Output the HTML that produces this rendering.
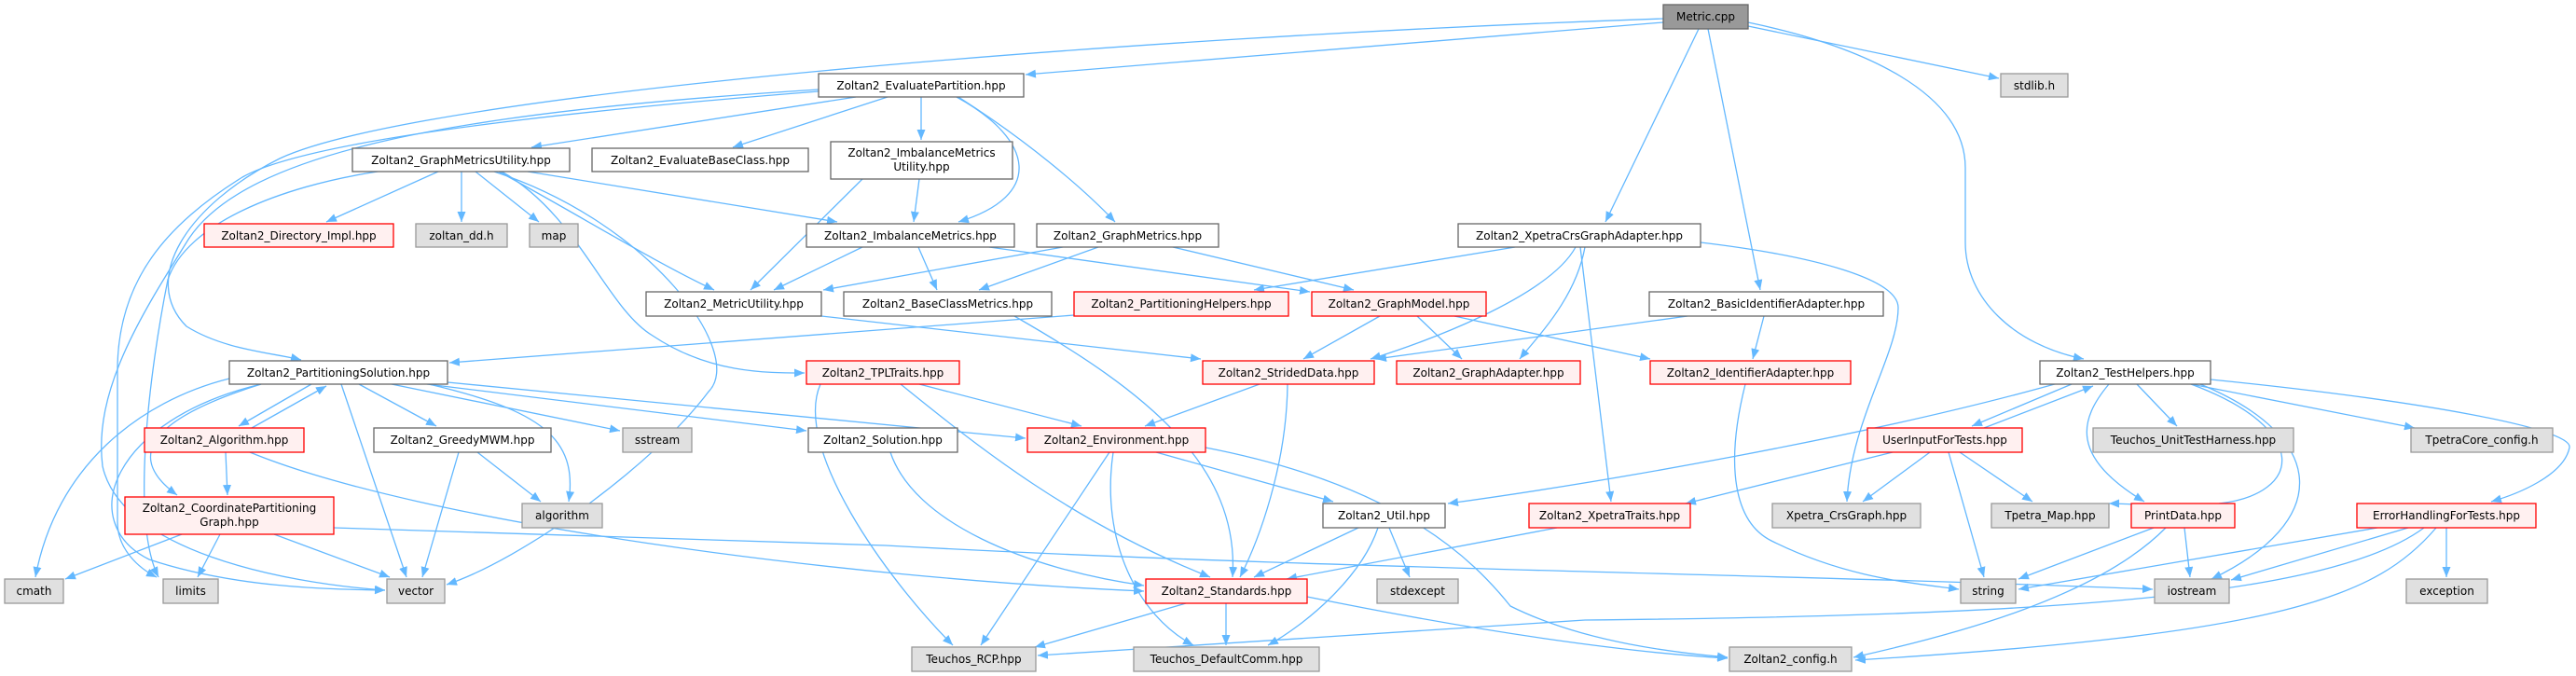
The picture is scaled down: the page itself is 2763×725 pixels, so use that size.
<!DOCTYPE html>
<html><head><meta charset="utf-8"><style>
html,body{margin:0;padding:0;background:#fff;}
svg{display:block;}
text{font-family:"DejaVu Sans","Liberation Sans",sans-serif;font-size:12px;fill:#000;}
.e{fill:none;stroke:#63b8ff;stroke-width:1.3;marker-end:url(#a);}
.w{fill:#fff;stroke:#666;stroke-width:1.3;}
.r{fill:#fff0f0;stroke:#f00;stroke-width:1.3;}
.g{fill:#e0e0e0;stroke:#999;stroke-width:1.3;}
.m{fill:#999;stroke:#666;stroke-width:1.3;}
</style></head><body>
<svg width="2763" height="725" viewBox="0 0 2763 725" xmlns="http://www.w3.org/2000/svg">
<defs><marker id="a" markerUnits="userSpaceOnUse" markerWidth="12" markerHeight="9" refX="11" refY="4.5" orient="auto"><path d="M0,0 L11,4.5 L0,9 z" fill="#63b8ff"/></marker></defs>
<g>
<path class="e" d="M1784,24 L1100,80"/>
<path class="e" d="M1784,20 C1200,40 450,100 300,170 C200,220 150,300 200,350 C240,375 290,378 323,386"/>
<path class="e" d="M1875,28 L2144,84"/>
<path class="e" d="M1822,31 L1722,238"/>
<path class="e" d="M1832,31 L1888,311"/>
<path class="e" d="M1875,24 C2000,50 2108,100 2108,180 L2108,260 C2108,320 2160,370 2235,385"/>
<path class="e" d="M918,104 L570,158"/>
<path class="e" d="M952,104 L786,158"/>
<path class="e" d="M988,104 L988,150"/>
<path class="e" d="M1026,104 C1110,150 1120,210 1028,238"/>
<path class="e" d="M1028,104 C1100,150 1160,200 1196,238"/>
<path class="e" d="M878,98 C600,120 330,150 260,190 C180,240 125,300 126,400 L126,560 C126,590 150,610 168,619"/>
<path class="e" d="M878,96 C500,120 260,160 200,260 C150,340 100,420 110,500 C130,590 300,625 413,633"/>
<path class="e" d="M470,184 L350,238"/>
<path class="e" d="M495,184 L495,238"/>
<path class="e" d="M510,184 L578,238"/>
<path class="e" d="M535,184 C620,230 700,280 766,311"/>
<path class="e" d="M566,184 L898,238"/>
<path class="e" d="M538,184 C620,230 650,330 700,360 C760,400 820,400 863,400"/>
<path class="e" d="M530,184 C700,240 800,380 760,420 C700,500 560,600 479,627"/>
<path class="e" d="M405,184 C300,200 200,240 180,300 C160,400 140,560 170,619"/>
<path class="e" d="M925,192 L805,311"/>
<path class="e" d="M986,192 L980,238"/>
<path class="e" d="M925,265 L830,311"/>
<path class="e" d="M985,265 L1005,311"/>
<path class="e" d="M1061,265 L1405,313"/>
<path class="e" d="M1140,265 L883,311"/>
<path class="e" d="M1178,265 L1050,311"/>
<path class="e" d="M1258,265 L1452,311"/>
<path class="e" d="M1625,265 L1345,311"/>
<path class="e" d="M1690,265 C1660,320 1520,370 1470,385"/>
<path class="e" d="M1700,265 C1690,320 1650,360 1630,385"/>
<path class="e" d="M1695,265 L1728,538"/>
<path class="e" d="M1824,260 C1950,275 2036,300 2036,330 C2036,380 1985,450 1981,538"/>
<path class="e" d="M1810,339 L1476,385"/>
<path class="e" d="M1892,339 L1880,385"/>
<path class="e" d="M1480,339 L1398,385"/>
<path class="e" d="M1520,339 L1568,385"/>
<path class="e" d="M1560,339 L1770,385"/>
<path class="e" d="M1152,338 L482,389"/>
<path class="e" d="M881,339 L1288,385"/>
<path class="e" d="M1088,339 C1230,420 1330,500 1322,619"/>
<path class="e" d="M334,412 L256,457"/>
<path class="e" d="M270,459 L350,414"/>
<path class="e" d="M385,412 L468,457"/>
<path class="e" d="M420,412 L665,462"/>
<path class="e" d="M460,412 C580,440 620,470 610,538"/>
<path class="e" d="M366,412 L436,619"/>
<path class="e" d="M246,406 C150,430 60,500 38,619"/>
<path class="e" d="M280,412 C190,440 120,480 190,531"/>
<path class="e" d="M458,412 L865,462"/>
<path class="e" d="M480,410 L1100,470"/>
<path class="e" d="M280,412 C120,450 80,560 160,600 C250,630 350,632 413,633"/>
<path class="e" d="M242,485 L244,531"/>
<path class="e" d="M268,485 C450,560 900,620 1227,634"/>
<path class="e" d="M195,573 L70,621"/>
<path class="e" d="M236,573 L212,619"/>
<path class="e" d="M294,573 L418,619"/>
<path class="e" d="M358,566 L950,585 C1400,610 1900,615 2309,632"/>
<path class="e" d="M512,485 L580,538"/>
<path class="e" d="M492,485 L453,619"/>
<path class="e" d="M986,412 L1160,457"/>
<path class="e" d="M966,412 C1050,480 1150,560 1298,619"/>
<path class="e" d="M880,412 C850,480 950,620 1022,692"/>
<path class="e" d="M955,485 C980,560 1100,610 1227,628"/>
<path class="e" d="M1351,412 L1228,457"/>
<path class="e" d="M1381,412 C1380,500 1350,580 1330,619"/>
<path class="e" d="M1240,485 L1430,538"/>
<path class="e" d="M1190,485 L1052,692"/>
<path class="e" d="M1194,485 C1180,580 1220,660 1280,692"/>
<path class="e" d="M1293,480 C1500,520 1580,600 1620,650 C1700,690 1800,700 1853,705"/>
<path class="e" d="M1457,566 L1345,619"/>
<path class="e" d="M1478,566 C1460,620 1400,670 1360,692"/>
<path class="e" d="M1490,566 L1512,619"/>
<path class="e" d="M1670,566 L1380,621"/>
<path class="e" d="M1272,647 L1110,694"/>
<path class="e" d="M1315,647 L1315,692"/>
<path class="e" d="M1402,640 C1600,680 1750,700 1853,706"/>
<path class="e" d="M1872,412 C1850,500 1860,560 1900,580 C1980,620 2050,625 2101,632"/>
<path class="e" d="M2222,412 L2115,457"/>
<path class="e" d="M2128,459 L2245,414"/>
<path class="e" d="M2218,408 C2000,470 1700,520 1553,540"/>
<path class="e" d="M2292,412 L2335,457"/>
<path class="e" d="M2340,410 L2590,459"/>
<path class="e" d="M2262,412 C2230,450 2220,490 2300,538"/>
<path class="e" d="M2350,412 C2480,460 2470,530 2380,540 C2320,545 2290,540 2262,540"/>
<path class="e" d="M2360,412 C2500,470 2500,560 2372,621"/>
<path class="e" d="M2371,407 C2600,430 2760,460 2756,480 C2750,510 2700,530 2672,538"/>
<path class="e" d="M2030,485 L1808,540"/>
<path class="e" d="M2070,485 L1998,538"/>
<path class="e" d="M2102,485 L2180,538"/>
<path class="e" d="M2090,485 L2128,619"/>
<path class="e" d="M2310,566 L2165,621"/>
<path class="e" d="M2343,566 L2349,619"/>
<path class="e" d="M2323,566 C2250,640 2100,680 1988,705"/>
<path class="e" d="M2550,566 L2165,632"/>
<path class="e" d="M2583,566 L2393,622"/>
<path class="e" d="M2624,566 L2624,619"/>
<path class="e" d="M2613,566 C2550,640 2450,680 1990,708"/>
<path class="e" d="M2600,566 C2500,640 2200,660 1700,665 L1113,703"/>
</g>
<g>
<rect class="m" x="1784" y="5" width="91" height="26"/><text x="1829.5" y="22" text-anchor="middle">Metric.cpp</text>
<rect class="w" x="878" y="79" width="220" height="25"/><text x="988" y="96" text-anchor="middle">Zoltan2_EvaluatePartition.hpp</text>
<rect class="g" x="2146" y="79" width="72" height="25"/><text x="2182" y="96" text-anchor="middle">stdlib.h</text>
<rect class="w" x="378" y="159" width="233" height="25"/><text x="494.5" y="176" text-anchor="middle">Zoltan2_GraphMetricsUtility.hpp</text>
<rect class="w" x="635" y="159" width="232" height="25"/><text x="751" y="176" text-anchor="middle">Zoltan2_EvaluateBaseClass.hpp</text>
<rect class="w" x="891" y="152" width="195" height="40"/><text x="988.5" y="168" text-anchor="middle">Zoltan2_ImbalanceMetrics</text><text x="988.5" y="183" text-anchor="middle">Utility.hpp</text>
<rect class="r" x="219" y="240" width="203" height="25"/><text x="320.5" y="257" text-anchor="middle">Zoltan2_Directory_Impl.hpp</text>
<rect class="g" x="446" y="240" width="98" height="25"/><text x="495" y="257" text-anchor="middle">zoltan_dd.h</text>
<rect class="g" x="568" y="240" width="52" height="25"/><text x="594" y="257" text-anchor="middle">map</text>
<rect class="w" x="865" y="240" width="223" height="25"/><text x="976.5" y="257" text-anchor="middle">Zoltan2_ImbalanceMetrics.hpp</text>
<rect class="w" x="1112" y="240" width="195" height="25"/><text x="1209.5" y="257" text-anchor="middle">Zoltan2_GraphMetrics.hpp</text>
<rect class="w" x="1564" y="240" width="260" height="25"/><text x="1694" y="257" text-anchor="middle">Zoltan2_XpetraCrsGraphAdapter.hpp</text>
<rect class="w" x="693" y="313" width="188" height="26"/><text x="787" y="330" text-anchor="middle">Zoltan2_MetricUtility.hpp</text>
<rect class="w" x="905" y="313" width="223" height="26"/><text x="1016.5" y="330" text-anchor="middle">Zoltan2_BaseClassMetrics.hpp</text>
<rect class="r" x="1152" y="313" width="230" height="26"/><text x="1267" y="330" text-anchor="middle">Zoltan2_PartitioningHelpers.hpp</text>
<rect class="r" x="1407" y="313" width="187" height="26"/><text x="1500.5" y="330" text-anchor="middle">Zoltan2_GraphModel.hpp</text>
<rect class="w" x="1769" y="313" width="251" height="26"/><text x="1894.5" y="330" text-anchor="middle">Zoltan2_BasicIdentifierAdapter.hpp</text>
<rect class="w" x="246" y="387" width="234" height="25"/><text x="363" y="404" text-anchor="middle">Zoltan2_PartitioningSolution.hpp</text>
<rect class="r" x="865" y="387" width="164" height="25"/><text x="947" y="404" text-anchor="middle">Zoltan2_TPLTraits.hpp</text>
<rect class="r" x="1290" y="387" width="184" height="25"/><text x="1382" y="404" text-anchor="middle">Zoltan2_StridedData.hpp</text>
<rect class="r" x="1498" y="387" width="197" height="25"/><text x="1596.5" y="404" text-anchor="middle">Zoltan2_GraphAdapter.hpp</text>
<rect class="r" x="1770" y="387" width="215" height="25"/><text x="1877.5" y="404" text-anchor="middle">Zoltan2_IdentifierAdapter.hpp</text>
<rect class="w" x="2188" y="387" width="183" height="25"/><text x="2279.5" y="404" text-anchor="middle">Zoltan2_TestHelpers.hpp</text>
<rect class="r" x="155" y="459" width="171" height="26"/><text x="240.5" y="476" text-anchor="middle">Zoltan2_Algorithm.hpp</text>
<rect class="w" x="401" y="459" width="190" height="26"/><text x="496" y="476" text-anchor="middle">Zoltan2_GreedyMWM.hpp</text>
<rect class="g" x="668" y="459" width="74" height="26"/><text x="705" y="476" text-anchor="middle">sstream</text>
<rect class="w" x="867" y="459" width="160" height="26"/><text x="947" y="476" text-anchor="middle">Zoltan2_Solution.hpp</text>
<rect class="r" x="1102" y="459" width="191" height="26"/><text x="1197.5" y="476" text-anchor="middle">Zoltan2_Environment.hpp</text>
<rect class="r" x="2003" y="459" width="166" height="26"/><text x="2086" y="476" text-anchor="middle">UserInputForTests.hpp</text>
<rect class="g" x="2245" y="459" width="215" height="26"/><text x="2352.5" y="476" text-anchor="middle">Teuchos_UnitTestHarness.hpp</text>
<rect class="g" x="2586" y="459" width="152" height="26"/><text x="2662" y="476" text-anchor="middle">TpetraCore_config.h</text>
<rect class="r" x="134" y="533" width="224" height="40"/><text x="246" y="549" text-anchor="middle">Zoltan2_CoordinatePartitioning</text><text x="246" y="564" text-anchor="middle">Graph.hpp</text>
<rect class="g" x="560" y="540" width="86" height="26"/><text x="603" y="557" text-anchor="middle">algorithm</text>
<rect class="w" x="1419" y="540" width="131" height="26"/><text x="1484.5" y="557" text-anchor="middle">Zoltan2_Util.hpp</text>
<rect class="r" x="1640" y="540" width="173" height="26"/><text x="1726.5" y="557" text-anchor="middle">Zoltan2_XpetraTraits.hpp</text>
<rect class="g" x="1901" y="540" width="159" height="26"/><text x="1980.5" y="557" text-anchor="middle">Xpetra_CrsGraph.hpp</text>
<rect class="g" x="2136" y="540" width="126" height="26"/><text x="2199" y="557" text-anchor="middle">Tpetra_Map.hpp</text>
<rect class="r" x="2286" y="540" width="111" height="26"/><text x="2341.5" y="557" text-anchor="middle">PrintData.hpp</text>
<rect class="r" x="2528" y="540" width="192" height="26"/><text x="2624" y="557" text-anchor="middle">ErrorHandlingForTests.hpp</text>
<rect class="g" x="5" y="621" width="63" height="26"/><text x="36.5" y="638" text-anchor="middle">cmath</text>
<rect class="g" x="175" y="621" width="59" height="26"/><text x="204.5" y="638" text-anchor="middle">limits</text>
<rect class="g" x="415" y="621" width="62" height="26"/><text x="446" y="638" text-anchor="middle">vector</text>
<rect class="r" x="1229" y="621" width="173" height="26"/><text x="1315.5" y="638" text-anchor="middle">Zoltan2_Standards.hpp</text>
<rect class="g" x="1477" y="621" width="87" height="26"/><text x="1520.5" y="638" text-anchor="middle">stdexcept</text>
<rect class="g" x="2103" y="621" width="59" height="26"/><text x="2132.5" y="638" text-anchor="middle">string</text>
<rect class="g" x="2311" y="621" width="80" height="26"/><text x="2351" y="638" text-anchor="middle">iostream</text>
<rect class="g" x="2581" y="621" width="87" height="26"/><text x="2624.5" y="638" text-anchor="middle">exception</text>
<rect class="g" x="978" y="694" width="133" height="26"/><text x="1044.5" y="711" text-anchor="middle">Teuchos_RCP.hpp</text>
<rect class="g" x="1216" y="694" width="199" height="26"/><text x="1315.5" y="711" text-anchor="middle">Teuchos_DefaultComm.hpp</text>
<rect class="g" x="1855" y="694" width="131" height="26"/><text x="1920.5" y="711" text-anchor="middle">Zoltan2_config.h</text>
</g>
</svg>
</body></html>
